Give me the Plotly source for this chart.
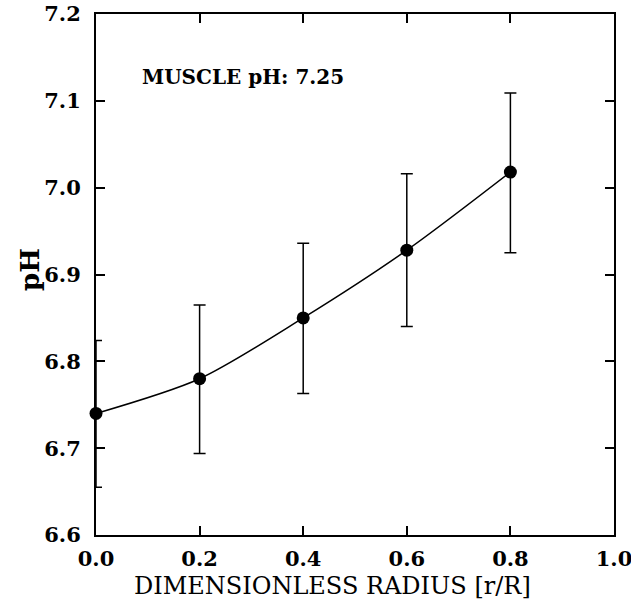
import plotly.graph_objects as go

radius = [0.0, 0.2, 0.4, 0.6, 0.8]
ph = [6.740, 6.780, 6.850, 6.928, 7.018]
err_plus = [0.084, 0.085, 0.086, 0.088, 0.091]
err_minus = [0.085, 0.086, 0.087, 0.088, 0.093]

x_ticks = [0.0, 0.2, 0.4, 0.6, 0.8, 1.0]
y_ticks = [6.6, 6.7, 6.8, 6.9, 7.0, 7.1, 7.2]

font_family = "DejaVu Serif"

fig = go.Figure()
fig.add_trace(go.Scatter(
    x=radius, y=ph, mode="lines", line=dict(color="black", width=1.5, shape="spline", smoothing=0.8),
    showlegend=False, hoverinfo="skip", cliponaxis=False))
fig.add_trace(go.Scatter(
    x=radius, y=ph, mode="markers", cliponaxis=False,
    marker=dict(color="black", size=13),
    error_y=dict(type="data", symmetric=False, array=err_plus, arrayminus=err_minus,
                 color="black", thickness=1.5, width=6),
    showlegend=False))

fig.add_annotation(x=0.085, y=7.128, xref="x", yref="y", text="<b>MUSCLE pH: 7.25</b>",
                   showarrow=False, xanchor="left", yanchor="middle",
                   font=dict(family=font_family, size=20, color="black"))
fig.add_annotation(x=0.456, y=-0.098, xref="paper", yref="paper",
                   text="DIMENSIONLESS RADIUS [r/R]", showarrow=False,
                   xanchor="center", yanchor="middle",
                   font=dict(family=font_family, size=24, color="black"))
fig.add_annotation(x=-0.127, y=0.509, xref="paper", yref="paper",
                   text="<b>pH</b>", showarrow=False, textangle=-90,
                   xanchor="center", yanchor="middle",
                   font=dict(family=font_family, size=26, color="black"))

axis_common = dict(showline=True, linecolor="black", linewidth=2, mirror="ticks",
                   ticks="inside", ticklen=9, tickwidth=1.5, tickcolor="black",
                   showgrid=False, zeroline=False, automargin=False,
                   ticklabeloverflow="allow",
                   tickfont=dict(family=font_family, size=21, color="black"))

fig.update_xaxes(range=[0, 1.0], tickvals=x_ticks, ticklabelstandoff=4,
                 ticktext=["<b>%.1f</b>" % v for v in x_ticks],
                 **axis_common)
fig.update_yaxes(range=[6.6, 7.2], tickvals=y_ticks, ticklabelstandoff=9,
                 ticktext=["<b>%.1f</b>" % v for v in y_ticks],
                 **axis_common)

fig.update_layout(width=631, height=605, margin=dict(l=96, r=17, t=14, b=70),
                  plot_bgcolor="white", paper_bgcolor="white")

fig.write_html("out.html", config={"displayModeBar": False},
               post_script="document.body.style.margin='0';document.body.style.overflow='hidden';")
